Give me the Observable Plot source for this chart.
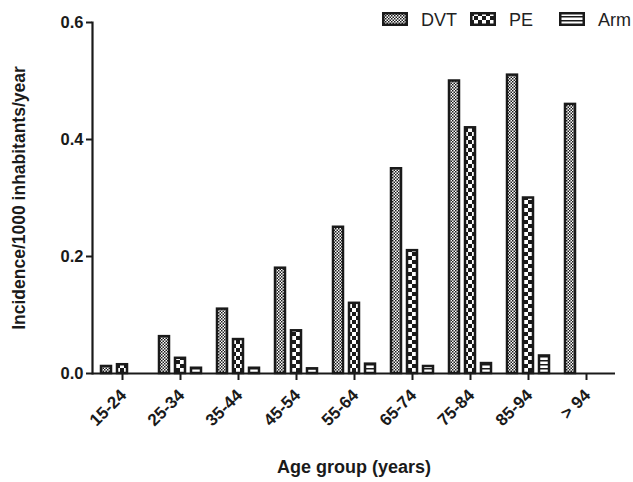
<!DOCTYPE html>
<html><head><meta charset="utf-8">
<script src="https://cdn.jsdelivr.net/npm/d3@7"></script>
<script src="https://cdn.jsdelivr.net/npm/@observablehq/plot@0.6"></script>
<style>
body{margin:0;background:#fff;}
#wrap{position:relative;width:633px;height:482px;font-family:"Liberation Sans",Arial,sans-serif;}
.lg{position:absolute;}
.lgt{position:absolute;font-size:18px;line-height:18px;color:#222;white-space:nowrap;}
</style></head><body><div id="wrap"></div>
<script>
const ages = ["15-24","25-34","35-44","45-54","55-64","65-74","75-84","85-94","> 94"];
const series = ["DVT","PE","Arm"];
const dvt = [0.012, 0.063, 0.11, 0.18, 0.25, 0.35, 0.50, 0.51, 0.46];
const pe  = [0.015, 0.026, 0.058, 0.073, 0.12, 0.21, 0.42, 0.30, null];
const arm = [null, 0.009, 0.009, 0.008, 0.016, 0.012, 0.017, 0.030, null];
const yTicks = [0, 0.2, 0.4, 0.6];

const valuesBySeries = {DVT: dvt, PE: pe, Arm: arm};
const rows = [];
ages.forEach((a, i) => series.forEach(s => {
  const v = valuesBySeries[s][i];
  if (v != null) rows.push({age: a, series: s, value: v});
}));
const offsets = {DVT: -16, PE: 0, Arm: 16};
const fills = {DVT: "url(#pat-dvt)", PE: "url(#pat-pe)", Arm: "url(#pat-arm)"};
const ink = "#1a1a1a";

const chart = Plot.plot({
  width: 633, height: 482,
  marginLeft: 92, marginRight: 18, marginTop: 22, marginBottom: 109,
  style: {fontFamily: "'Liberation Sans', Arial, sans-serif", color: ink, background: "#fff"},
  x: {domain: ages, padding: 0},
  y: {domain: [0, 0.6]},
  marks: [
    ...series.map(s => Plot.barY(rows.filter(d => d.series === s), {
      x: "age", y: "value", dx: offsets[s], fill: fills[s],
      stroke: ink, strokeWidth: 2.5, insetLeft: 24, insetRight: 24
    })),
    Plot.ruleY([0], {stroke: ink, strokeWidth: 2.2}),
    Plot.frame({anchor: "left", stroke: ink, strokeWidth: 2.2}),
    Plot.axisY({ticks: yTicks, tickFormat: d3.format(".1f"), tickSize: 6, tickPadding: 3,
      strokeWidth: 2, fontWeight: "bold",
      label: "Incidence/1000 inhabitants/year", labelArrow: "none", labelAnchor: "center", labelOffset: 80}),
    Plot.axisX({tickSize: 7, tickPadding: 4, tickRotate: -45, strokeWidth: 2,
      fontWeight: "bold",
      label: "Age group (years)", labelArrow: "none", labelAnchor: "center", labelOffset: 99})
  ]
});

const svg = d3.select(chart);
svg.selectAll("[aria-label='y-axis label'] text, [aria-label='x-axis label'] text")
  .each(function() { this.textContent = this.textContent.replace(/[\u2190-\u2193]/g, "").trim(); })
  .style("font-size", "18px").style("font-weight", "bold");
svg.selectAll("[aria-label='y-axis label'] text").style("font-size", "17.5px");
svg.selectAll("g[aria-label='y-axis tick label'] text").style("font-size", "16.5px").style("font-weight", "bold");
svg.selectAll("g[aria-label='x-axis tick label'] text").style("font-size", "17px").style("font-weight", "bold");
svg.selectAll("g[aria-label='x-axis tick label']")
  .each(function() {
    const t = this.getAttribute("transform") || "";
    this.setAttribute("transform", ("translate(1,8) " + t).trim());
  });
const defs = svg.insert("defs", ":first-child");
let p = defs.append("pattern").attr("id", "pat-dvt").attr("patternUnits", "userSpaceOnUse")
  .attr("width", 3).attr("height", 3);
p.append("rect").attr("width", 3).attr("height", 3).attr("fill", "#fff");
p.append("rect").attr("width", 1.5).attr("height", 1.5).attr("fill", ink);
p.append("rect").attr("x", 1.5).attr("y", 1.5).attr("width", 1.5).attr("height", 1.5).attr("fill", ink);
p = defs.append("pattern").attr("id", "pat-pe").attr("patternUnits", "userSpaceOnUse")
  .attr("width", 8).attr("height", 8);
p.append("rect").attr("width", 8).attr("height", 8).attr("fill", "#fff");
p.append("rect").attr("width", 4).attr("height", 4).attr("fill", ink);
p.append("rect").attr("x", 4).attr("y", 4).attr("width", 4).attr("height", 4).attr("fill", ink);
p = defs.append("pattern").attr("id", "pat-arm").attr("patternUnits", "userSpaceOnUse")
  .attr("width", 4).attr("height", 4);
p.append("rect").attr("width", 4).attr("height", 4).attr("fill", "#fff");
p.append("rect").attr("width", 4).attr("height", 1.5).attr("fill", ink);

const wrap = document.getElementById("wrap");
wrap.appendChild(chart);

const legendPos = [{s: "DVT", sx: 382, tx: 421}, {s: "PE", sx: 470, tx: 509}, {s: "Arm", sx: 559, tx: 598}];
legendPos.forEach(({s, sx, tx}) => {
  const sw = d3.create("svg").attr("class", "lg").attr("width", 26).attr("height", 14)
    .style("left", sx + "px").style("top", "12px");
  sw.append("rect").attr("x", 1.25).attr("y", 1.25).attr("width", 23.5).attr("height", 11.5)
    .attr("fill", fills[s]).attr("stroke", ink).attr("stroke-width", 2.5);
  wrap.appendChild(sw.node());
  const t = document.createElement("div");
  t.className = "lgt"; t.textContent = s;
  t.style.left = tx + "px"; t.style.top = "11px";
  wrap.appendChild(t);
});
</script></body></html>
